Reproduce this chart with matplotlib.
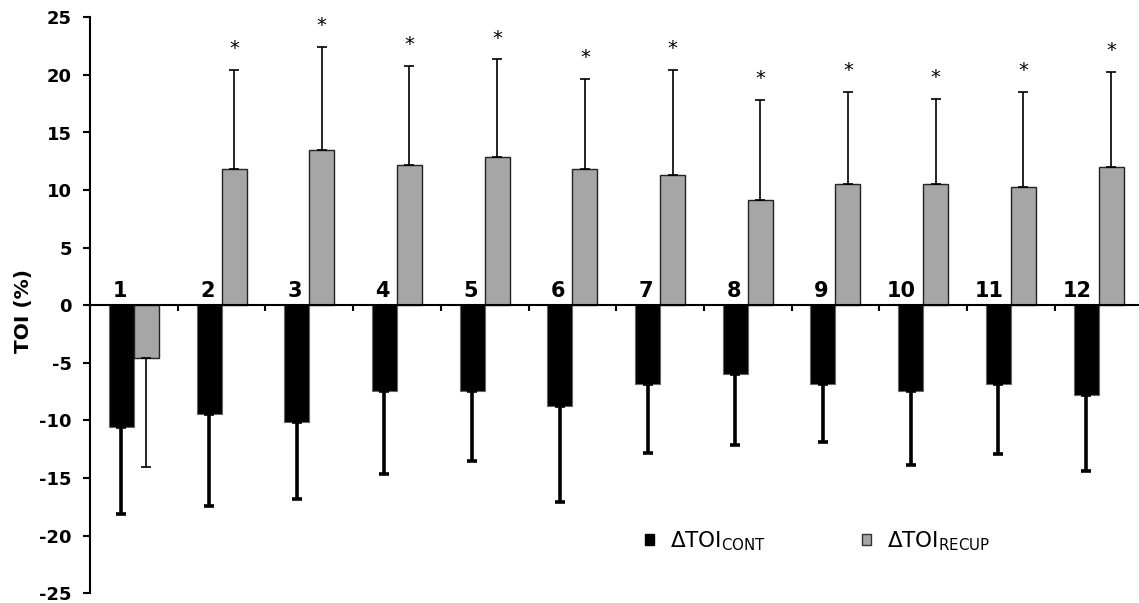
import matplotlib
matplotlib.use("Agg")
import matplotlib.pyplot as plt
from matplotlib.patches import Patch
import numpy as np

plt.rcParams['font.family'] = ['DejaVu Sans']
plt.rcParams['mathtext.default'] = 'regular'
plt.rcParams['axes.unicode_minus'] = False

categories = ['1', '2', '3', '4', '5', '6', '7', '8', '9', '10', '11', '12']
cont_mean = [-10.6, -9.4, -10.1, -7.4, -7.4, -8.7, -6.8, -6.0, -6.8, -7.4, -6.8, -7.8]
cont_sd = [7.5, 8.0, 6.75, 7.25, 6.1, 8.4, 6.05, 6.1, 5.05, 6.45, 6.15, 6.55]
recup_mean = [-4.55, 11.8, 13.45, 12.2, 12.9, 11.8, 11.3, 9.1, 10.5, 10.5, 10.3, 12.0]
recup_sd = [9.45, 8.65, 8.95, 8.6, 8.45, 7.85, 9.15, 8.7, 8.05, 7.4, 8.25, 8.25]
significant = [False, True, True, True, True, True, True, True, True, True, True, True]
legend_labels = [r'$\Delta$TOI$_{\mathrm{CONT}}$', r'$\Delta$TOI$_{\mathrm{RECUP}}$']

W, H = 1139, 603
fig = plt.figure(figsize=(W / 100, H / 100), dpi=100)
ax = fig.add_axes([90 / W, (H - 593.3) / H, 1052.4 / W, 576 / H])

n = len(categories)
idx = np.arange(n)
bw = 0.285
x_cont = idx + 0.5 - bw / 2
x_rec = idx + 0.5 + bw / 2

cm = np.array(cont_mean); cs = np.array(cont_sd)
rm = np.array(recup_mean); rs = np.array(recup_sd)

ax.bar(x_cont, cm, width=bw, color='black', edgecolor='#666666', linewidth=0.8, zorder=2)
ax.bar(x_rec, rm, width=bw, color='#A6A6A6', edgecolor='#222222', linewidth=1.0, zorder=2)

c_low = np.where(cm < 0, cs, 0)
c_up = np.where(cm < 0, 0, cs)
ax.errorbar(x_cont, cm, yerr=[c_low, c_up], fmt='none', ecolor='black',
            elinewidth=2.6, capsize=3.5, capthick=2.6, zorder=3)
r_low = np.where(rm < 0, rs, 0)
r_up = np.where(rm < 0, 0, rs)
ax.errorbar(x_rec, rm, yerr=[r_low, r_up], fmt='none', ecolor='black',
            elinewidth=1.2, capsize=3.5, capthick=1.2, zorder=3)

px = 1 / 87.7  # one pixel in category units
for i in range(n):
    ax.text(x_rec[i] - bw / 2 - 7 * px, 0.4, categories[i], ha='right', va='bottom',
            fontsize=15, fontweight='bold')
    if significant[i]:
        top = rm[i] + rs[i]
        ax.annotate('*', xy=(x_rec[i], top), xytext=(0, 8.5), textcoords='offset points',
                    ha='center', va='bottom', fontsize=14)

ax.set_xlim(0, n)
ax.set_ylim(-25, 25)
ax.set_yticks(np.arange(-25, 26, 5))
ax.tick_params(axis='y', labelsize=13, width=1.5, length=5, direction='out', pad=8)
for lab in ax.get_yticklabels():
    lab.set_fontweight('bold')
ax.set_xticks(np.arange(0, n + 1))
ax.set_xticklabels([])
ax.tick_params(axis='x', width=1.5, length=4, direction='out')

ax.spines['top'].set_visible(False)
ax.spines['right'].set_visible(False)
ax.spines['bottom'].set_position(('data', 0))
ax.spines['bottom'].set_linewidth(1.5)
ax.spines['left'].set_linewidth(1.5)

fig.text(23 / W, 1 - 311 / H, 'TOI (%)', rotation=90, ha='center', va='center',
         fontsize=14.5, fontweight='bold')

handles = [Patch(facecolor='black', edgecolor='black'),
           Patch(facecolor='#A6A6A6', edgecolor='#333333')]
anchors = [645, 862]
for h, lab, xa in zip(handles, legend_labels, anchors):
    fig.legend([h], [lab], loc='center left',
               bbox_to_anchor=(xa / W, 1 - 541 / H), frameon=False,
               fontsize=15.5, handlelength=0.4, handleheight=0.4, handletextpad=0.75,
               borderaxespad=0, borderpad=0)

fig.savefig('out.png', dpi=100)
